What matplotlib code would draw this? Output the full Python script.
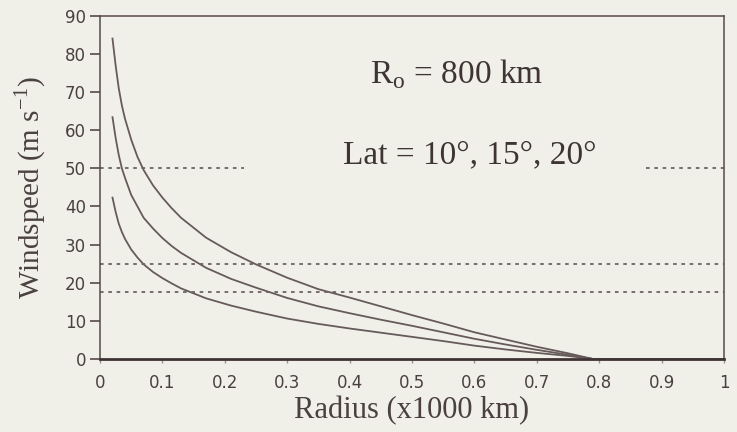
import matplotlib
matplotlib.use("Agg")
import matplotlib.pyplot as plt

# radius in units of 1000 km
radius = [0.02, 0.025, 0.03, 0.035, 0.04, 0.05, 0.06, 0.07, 0.085, 0.10, 0.115,
          0.13, 0.17, 0.21, 0.25, 0.30, 0.35, 0.40, 0.45, 0.50, 0.55, 0.60,
          0.65, 0.70, 0.75, 0.79, 1.0]

# windspeed (m/s), one list per latitude
wind_lat20 = [84.0, 77.0, 71.0, 66.5, 63.0, 57.5, 53.0, 49.5, 45.5, 42.3, 39.5,
              37.0, 31.8, 28.0, 24.8, 21.3, 18.3, 16.1, 13.8, 11.5, 9.3, 7.0,
              5.1, 3.2, 1.5, 0.0, 0.0]
wind_lat15 = [63.4, 58.0, 53.5, 50.0, 47.5, 43.0, 40.0, 37.0, 34.2, 31.7, 29.6,
              27.8, 23.9, 21.0, 18.7, 16.0, 13.8, 12.0, 10.3, 8.7, 7.0, 5.3,
              3.8, 2.4, 1.1, 0.0, 0.0]
wind_lat10 = [42.3, 38.6, 35.5, 33.3, 31.5, 28.7, 26.6, 24.8, 22.8, 21.2, 19.8,
              18.5, 15.9, 14.0, 12.4, 10.6, 9.2, 8.0, 6.9, 5.8, 4.7, 3.5,
              2.5, 1.6, 0.8, 0.0, 0.0]

# reference windspeeds drawn as dotted lines: (speed, x start, x end)
ref_speeds = [50.0, 50.0, 25.0, 17.5]
ref_x0 = [0.0, 0.875, 0.0, 0.0]
ref_x1 = [0.23, 1.0, 1.0, 1.0]

x_ticks = [0, 0.1, 0.2, 0.3, 0.4, 0.5, 0.6, 0.7, 0.8, 0.9, 1.0]
x_labels = ["0", "0.1", "0.2", "0.3", "0.4", "0.5", "0.6", "0.7", "0.8", "0.9", "1"]
y_ticks = [0, 10, 20, 30, 40, 50, 60, 70, 80, 90]

bg = "#f0f0e9"
ink = "#574a4a"
curve = "#665a5a"
serif = ["Liberation Serif", "DejaVu Serif"]
plt.rcParams["mathtext.fontset"] = "custom"
plt.rcParams["mathtext.rm"] = "Liberation Serif"

fig = plt.figure(figsize=(7.37, 4.32), dpi=100, facecolor=bg)
ax = fig.add_axes([0.1357, 0.169, 0.8467, 0.7947], facecolor=bg)

for ys in (wind_lat20, wind_lat15, wind_lat10):
    ax.plot(radius, ys, color=curve, lw=1.3)

for v, a, b in zip(ref_speeds, ref_x0, ref_x1):
    ax.plot([a, b], [v, v], color="#6e6262", lw=1.3, linestyle=(0, (2.0, 2.6)))

ax.set_xlim(0, 1)
ax.set_ylim(0, 90)
ax.set_xticks(x_ticks)
ax.set_xticklabels(x_labels)
ax.set_yticks(y_ticks)

for side in ("left", "right", "top"):
    ax.spines[side].set_color(ink)
    ax.spines[side].set_linewidth(1.1)
ax.spines["bottom"].set_color("#3e3434")
ax.spines["bottom"].set_linewidth(2.0)

ax.tick_params(axis="y", direction="out", length=7, width=1.2, color=ink,
               labelsize=12, labelcolor="#4a4040", pad=3)
ax.tick_params(axis="x", direction="out", length=3, width=1.0, color="#9a9090",
               labelsize=12, labelcolor="#4a4040", pad=8)

ax.set_xlabel("Radius (x1000 km)", fontsize=22, family=serif, color="#4a4040",
              labelpad=3)
ax.set_ylabel("Windspeed (m s$^{\\mathregular{-1}}$)", fontsize=21, family=serif,
              color="#4a4040", labelpad=12)

ax.text(0.432, 0.83, "R$_\\mathregular{o}$ = 800 km", transform=ax.transAxes,
        fontsize=24, family=serif, color="#3e3434", va="center", ha="left")
ax.text(0.39, 0.593, "Lat = 10°, 15°, 20°", transform=ax.transAxes,
        fontsize=24, family=serif, color="#3e3434", va="center", ha="left")

fig.savefig("out.png", dpi=100, facecolor=bg)
